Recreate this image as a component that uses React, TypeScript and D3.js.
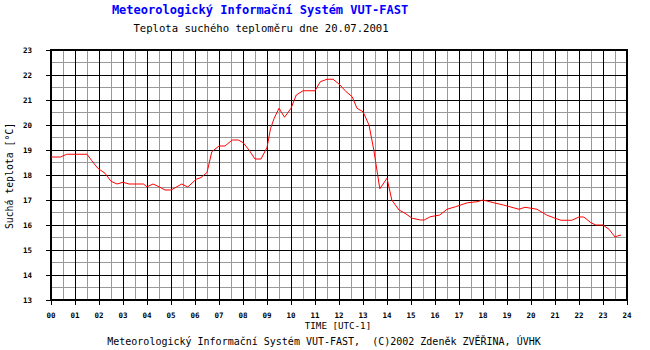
import React, { useRef, useEffect } from 'react';
import * as d3 from 'd3';

// time of reading in hours (UTC-1) and dry bulb temperature in °C
const hours = [
    0.0, 0.4, 0.65, 1.5, 1.7, 1.95, 2.25, 2.5, 2.75, 3.0, 3.25, 3.85, 4.0, 4.25, 4.5, 4.75,
    5.0, 5.45, 5.7, 6.05, 6.25, 6.5, 6.7, 7.0, 7.25, 7.55, 7.8, 8.0, 8.25, 8.5, 8.75, 9.0,
    9.15, 9.3, 9.5, 9.73, 10.0, 10.22, 10.5, 11.0, 11.22, 11.5, 11.75, 12.0, 12.3, 12.55, 12.75, 13.0,
    13.25, 13.45, 13.7, 14.0, 14.2, 14.5, 14.75, 15.05, 15.4, 15.55, 15.8, 16.2, 16.5, 16.85, 17.35, 17.75,
    18.0, 18.45, 18.85, 19.5, 19.75, 20.25, 20.65, 21.0, 21.25, 21.7, 22.0, 22.2, 22.5, 22.7, 23.0, 23.25,
    23.5, 23.6, 23.75
];
const temps = [
    18.72, 18.72, 18.83, 18.83, 18.57, 18.27, 18.07, 17.75, 17.64, 17.71, 17.64, 17.64, 17.53, 17.64, 17.53, 17.40,
    17.40, 17.64, 17.52, 17.83, 17.9, 18.1, 18.93, 19.16, 19.16, 19.4, 19.4, 19.3, 19.0, 18.64, 18.64, 19.1,
    19.87, 20.27, 20.67, 20.31, 20.67, 21.2, 21.37, 21.37, 21.73, 21.83, 21.83, 21.64, 21.33, 21.13, 20.67, 20.53,
    20.0, 19.0, 17.45, 17.87, 17.0, 16.6, 16.47, 16.27, 16.2, 16.2, 16.33, 16.4, 16.63, 16.73, 16.89, 16.93,
    17.0, 16.89, 16.8, 16.63, 16.71, 16.63, 16.4, 16.27, 16.19, 16.19, 16.32, 16.32, 16.09, 16.0, 16.0, 15.83,
    15.52, 15.56, 15.6
];

const xTicks = d3.range(0, 25);
const xTickLabels = xTicks.map(h => (h < 10 ? '0' + h : '' + h));
const yTicks = d3.range(13, 24);

const title = 'Meteorologický Informační Systém VUT-FAST';
const subtitle = 'Teplota suchého teploměru dne 20.07.2001';
const xTitle = 'TIME [UTC-1]';
const yTitle = 'Suchá teplota [°C]';
const footer = 'Meteorologický Informační Systém VUT-FAST,  (C)2002 Zdeněk ZVĚŘINA, ÚVHK';

const mono = '"DejaVu Sans Mono", "Liberation Mono", monospace';

const App = () => {
    const ref = useRef<SVGSVGElement>(null);

    useEffect(() => {
        const svg = d3.select(ref.current);
        svg.selectAll('*').remove();

        const x = d3.scaleLinear().domain([0, 24]).range([51, 627]);
        const y = d3.scaleLinear().domain([13, 23]).range([300, 50]);

        const grid = svg.append('g').attr('shape-rendering', 'crispEdges');

        // half hour / half degree lines
        d3.range(0.5, 24, 1).forEach(h => {
            grid.append('line')
                .attr('x1', x(h)).attr('x2', x(h))
                .attr('y1', y(23)).attr('y2', y(13))
                .attr('stroke', '#999').attr('stroke-width', 1);
        });
        d3.range(13.5, 23, 1).forEach(t => {
            grid.append('line')
                .attr('x1', x(0)).attr('x2', x(24))
                .attr('y1', y(t)).attr('y2', y(t))
                .attr('stroke', '#999').attr('stroke-width', 1);
        });

        // whole hour / degree lines with small outer ticks
        xTicks.forEach(h => {
            grid.append('line')
                .attr('x1', x(h)).attr('x2', x(h))
                .attr('y1', y(23)).attr('y2', y(13) + 5)
                .attr('stroke', '#000').attr('stroke-width', 1);
        });
        yTicks.forEach(t => {
            grid.append('line')
                .attr('x1', x(0) - 5).attr('x2', x(24))
                .attr('y1', y(t)).attr('y2', y(t))
                .attr('stroke', '#000').attr('stroke-width', 1);
        });

        // frame
        grid.append('rect')
            .attr('x', x(0)).attr('y', y(23))
            .attr('width', x(24) - x(0)).attr('height', y(13) - y(23))
            .attr('fill', 'none').attr('stroke', '#000').attr('stroke-width', 2);

        const data = hours.map((h, i) => ({ h, t: temps[i] }));
        const line = d3.line<{ h: number, t: number }>()
            .x(d => x(d.h))
            .y(d => y(d.t));

        svg.append('path')
            .datum(data)
            .attr('fill', 'none')
            .attr('stroke', '#ff0000')
            .attr('stroke-width', 1)
            .attr('d', line);

        // tick labels
        svg.append('g').selectAll('text')
            .data(xTicks)
            .join('text')
            .attr('x', d => x(d))
            .attr('y', 318)
            .attr('text-anchor', 'middle')
            .style('font', `bold 7.5px ${mono}`)
            .text((d, i) => xTickLabels[i]);

        svg.append('g').selectAll('text')
            .data(yTicks)
            .join('text')
            .attr('x', 32)
            .attr('y', d => y(d) + 3)
            .attr('text-anchor', 'end')
            .style('font', `bold 7.5px ${mono}`)
            .text(d => d);

        svg.append('text')
            .attr('x', 260).attr('y', 14)
            .attr('text-anchor', 'middle')
            .attr('fill', '#0000ff')
            .style('font', `bold 12px ${mono}`)
            .text(title);

        svg.append('text')
            .attr('x', 261).attr('y', 32)
            .attr('text-anchor', 'middle')
            .style('font', `10.6px ${mono}`)
            .text(subtitle);

        svg.append('text')
            .attr('x', 338).attr('y', 329)
            .attr('text-anchor', 'middle')
            .style('font', `9.2px ${mono}`)
            .text(xTitle);

        svg.append('text')
            .attr('transform', 'translate(13, 176) rotate(-90)')
            .attr('text-anchor', 'middle')
            .style('font', `9.8px ${mono}`)
            .text(yTitle);

        svg.append('text')
            .attr('x', 324).attr('y', 345)
            .attr('text-anchor', 'middle')
            .style('font', `10px ${mono}`)
            .style('white-space', 'pre')
            .text(footer);
    }, []);

    return (
        <svg ref={ref} width={650} height={350}
            style={{ position: 'absolute', left: 0, top: 0, background: '#fff' }} />
    );
};

export default App;
